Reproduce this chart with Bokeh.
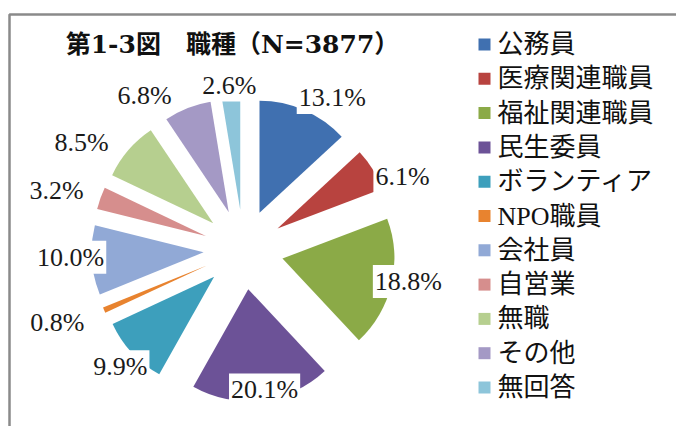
import math
from bokeh.plotting import figure
from bokeh.models import Range1d
from bokeh.core.properties import value
from bokeh.embed import file_html
from bokeh.resources import INLINE

# ---- data ----
categories = ["公務員", "医療関連職員", "福祉関連職員", "民生委員", "ボランティア",
              "NPO職員", "会社員", "自営業", "無職", "その他", "無回答"]
percents = [13.1, 6.1, 18.8, 20.1, 9.9, 0.8, 10.0, 3.2, 8.5, 6.8, 2.6]
title_text = "第1-3図　職種（N=3877）"

# ---- styles / layout ----
colors = ["#4070B0", "#B8433F", "#8BAA47", "#6C5297", "#3D9FBC", "#E8832F",
          "#91A9D6", "#D68E8D", "#B6CF8F", "#A499C5", "#8DC5DA"]
# per-label placement tweaks (radius from pie centre in px, angle nudge in deg)
label_r = [176, 175, 168, 142, 170, 200, 173, 196, 194, 183, 165]
label_nudge = [6.7, 7.1, -2.1, -1.7, -0.8, 2.1, 1.5, -2.2, -7.4, -11.1, -0.2]

W, H = 676, 426
CX, CY = 243, H - 249       # pie centre (data units == pixels)
RADIUS = 112
EXPLODE = 40

p = figure(width=W, height=H, x_range=Range1d(0, W), y_range=Range1d(0, H),
           output_backend="svg", toolbar_location=None, min_border=0,
           outline_line_color=None)
p.axis.visible = False
p.grid.visible = False
p.background_fill_color = "white"
p.border_fill_color = "white"

total = sum(percents)
cum = 0.0
wx, wy, sa, ea = [], [], [], []
lx, ly = [], []
for i, v in enumerate(percents):
    t1 = cum / total * 360.0
    t2 = (cum + v) / total * 360.0
    cum += v
    mid = (t1 + t2) / 2.0
    m = math.radians(mid)
    wx.append(CX + EXPLODE * math.sin(m))
    wy.append(CY + EXPLODE * math.cos(m))
    sa.append(math.radians(90.0 - t2))
    ea.append(math.radians(90.0 - t1))
    la = math.radians(mid + label_nudge[i])
    lx.append(CX + label_r[i] * math.sin(la))
    ly.append(CY + label_r[i] * math.cos(la))

p.wedge(x=wx, y=wy, radius=RADIUS, radius_units="screen",
        start_angle=sa, end_angle=ea,
        fill_color=colors, line_color=None)

# frame lines (top and left edge of the chart area)
p.line(x=[9, 9, W], y=[0, H - 14, H - 14], line_color="#8a8a8a", line_width=2.5)

serif = value("Liberation Serif, Noto Sans CJK JP")
p.text(x=lx, y=ly, text=[f"{v:.1f}%" for v in percents],
       text_font=serif, text_font_size="26px", text_color="#1a1a1a",
       text_align="center", text_baseline="middle",
       background_fill_color="white", padding=2)

# title
p.text(x=[232], y=[H - 44], text=[title_text],
       text_font=value("DejaVu Serif, Noto Sans CJK JP"),
       text_font_size="25px", text_font_style="bold", text_color="#111111",
       text_align="center", text_baseline="middle")

# legend
ly0, ldy = H - 44, 34.3
leg_y = [ly0 - i * ldy for i in range(len(categories))]
p.rect(x=[484] * len(categories), y=leg_y, width=12, height=12,
       width_units="screen", height_units="screen",
       fill_color=colors, line_color=None)
p.text(x=[497] * len(categories), y=leg_y, text=categories, text_font=serif,
       text_font_size="26px", text_color="#111111",
       text_align="left", text_baseline="middle")

open("out.html", "w").write(file_html(p, INLINE))
